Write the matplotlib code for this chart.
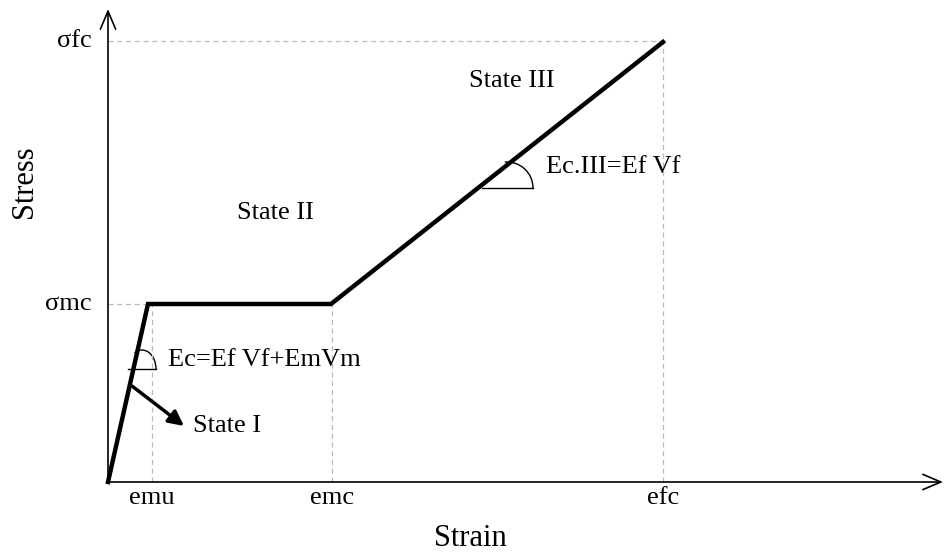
import matplotlib
matplotlib.use("Agg")
import matplotlib.pyplot as plt
from matplotlib.patches import Arc

# Data (units chosen on an arbitrary linear scale)
strain_pts = [0, 40, 223, 555]
stress_pts = [0, 178, 178, 440]
strain_ticks = [44, 224, 555]
strain_labels = ["emu", "emc", "efc"]
stress_ticks = [178, 441]
stress_labels = ["σmc", "σfc"]

plt.rcParams['font.family'] = ['Liberation Serif', 'DejaVu Serif']

fig = plt.figure(figsize=(9.44, 5.53), dpi=100)
ax = fig.add_axes([0, 0, 1, 1])
ax.set_xlim(-108, 836)
ax.set_ylim(-71, 482)
ax.axis('off')

# axes with open arrowheads
arrow_kw = dict(arrowstyle='->,head_length=1.3,head_width=0.55', lw=1.2, color='black',
                shrinkA=0, shrinkB=0)
ax.annotate('', xy=(835, 0), xytext=(0, 0), arrowprops=arrow_kw)
ax.annotate('', xy=(0, 473), xytext=(0, 0), arrowprops=arrow_kw)

# dashed guides
gkw = dict(color='#bbbbbb', lw=0.9, ls=(0, (4, 3)))
ax.plot([0, strain_pts[1]], [stress_ticks[0]] * 2, **gkw)
ax.plot([0, strain_ticks[2]], [stress_ticks[1]] * 2, **gkw)
for xt, top in zip(strain_ticks, [stress_ticks[0], stress_ticks[0], stress_ticks[1]]):
    ax.plot([xt, xt], [0, top], **gkw)

# main curve
ax.plot(strain_pts, stress_pts, color='black', lw=3.2, solid_joinstyle='miter', zorder=3)

# tick labels
fs = 19
for xt, lab in zip(strain_ticks, strain_labels):
    ax.text(xt, -16, lab, ha='center', va='center', fontsize=fs)
for yt, lab in zip(stress_ticks, stress_labels):
    ax.text(-16, yt, lab, ha='right', va='center', fontsize=fs)

ax.text(362, -56, "Strain", ha='center', va='center', fontsize=22)
ax.text(-83, 300, "Stress", ha='center', va='center', fontsize=22, rotation=90)

# angle symbols
ax.plot([20, 48], [113, 113], color='black', lw=1.0)
ax.add_patch(Arc((34, 113), 28, 38, theta1=0, theta2=115, color='black', lw=1.0))
ax.plot([374, 425], [294, 294], color='black', lw=1.0)
ax.add_patch(Arc((399, 294), 52, 52, theta1=0, theta2=95, color='black', lw=1.0))

# annotations
ax.text(60, 122, "Ec=Ef Vf+EmVm", ha='left', va='center', fontsize=fs)
ax.text(438, 315, "Ec.III=Ef Vf", ha='left', va='center', fontsize=fs)
ax.text(129, 269, "State II", ha='left', va='center', fontsize=fs)
ax.text(361, 401, "State III", ha='left', va='center', fontsize=fs)
ax.text(85, 56, "State I", ha='left', va='center', fontsize=fs)
ax.annotate('', xy=(76, 56), xytext=(24, 96),
            arrowprops=dict(arrowstyle='-|>,head_length=0.9,head_width=0.45',
                            lw=2.5, color='black', shrinkA=0, shrinkB=0))

fig.savefig("out.png", dpi=100)
